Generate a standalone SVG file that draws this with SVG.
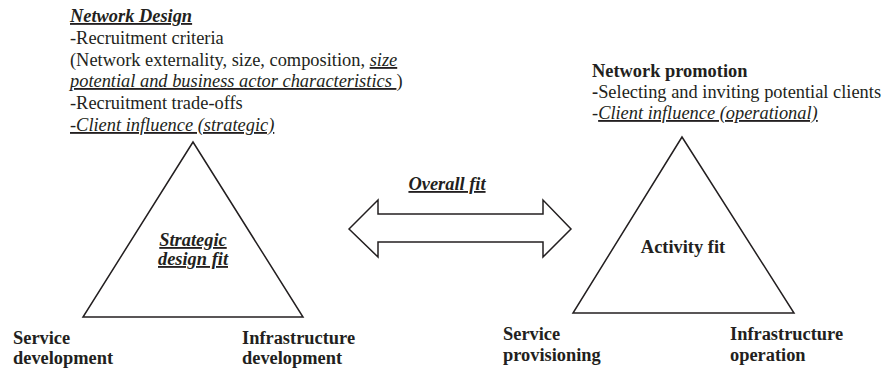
<svg xmlns="http://www.w3.org/2000/svg" width="882" height="374" viewBox="0 0 882 374" font-family="'Liberation Serif', 'Times New Roman', serif">
<style>
text{font-family:'Liberation Serif','Times New Roman',serif;font-size:18.4px;fill:#231f20}
.b{font-weight:bold}
.i{font-style:italic}
.u{text-decoration:underline}
.shape{fill:#fff;stroke:#231f20;stroke-width:1.5;stroke-linejoin:miter}
</style>
<rect width="882" height="374" fill="#fff"/>
<g id="network-design">
<text x="70" y="22" class="b i u">Network Design</text>
<text x="70" y="44">-Recruitment criteria</text>
<text x="70" y="66">(Network externality, size, composition, <tspan class="i u">size</tspan></text>
<text x="70" y="87"><tspan class="i u">potential and business actor characteristics </tspan>)</text>
<text x="70" y="109">-Recruitment trade-offs</text>
<text x="70" y="131" class="i u">-Client influence (strategic)</text>
</g>
<g id="network-promotion">
<text x="592" y="77" class="b">Network promotion</text>
<text x="592" y="98"><tspan class="b">-</tspan>Selecting and inviting potential clients</text>
<text x="592" y="119">-<tspan class="i u">Client influence (operational)</tspan></text>
</g>
<g id="strategic-design-fit">
<polygon class="shape" points="193,142 83,317 303,317"/>
<text x="193" y="246" class="b i u" text-anchor="middle">Strategic</text>
<text x="193" y="265" class="b i u" text-anchor="middle">design fit</text>
</g>
<g id="activity-fit">
<polygon class="shape" points="682,137 573,313 794,313"/>
<text x="683" y="253" class="b" text-anchor="middle">Activity fit</text>
</g>
<g id="service-development">
<text x="13" y="344" class="b">Service</text>
<text x="13" y="364" class="b">development</text>
</g>
<g id="infrastructure-development">
<text x="242" y="344" class="b">Infrastructure</text>
<text x="242" y="364" class="b">development</text>
</g>
<g id="service-provisioning">
<text x="503" y="340" class="b">Service</text>
<text x="503" y="361" class="b">provisioning</text>
</g>
<g id="infrastructure-operation">
<text x="730" y="340" class="b">Infrastructure</text>
<text x="730" y="361" class="b">operation</text>
</g>
<g id="connectors">
<polygon class="shape" points="349,229 378,200 378,214 543,214 543,200 571,229 543,257 543,242 378,242 378,257"/>
<text x="447" y="190" class="b i u" text-anchor="middle">Overall fit</text>
</g>
</svg>
